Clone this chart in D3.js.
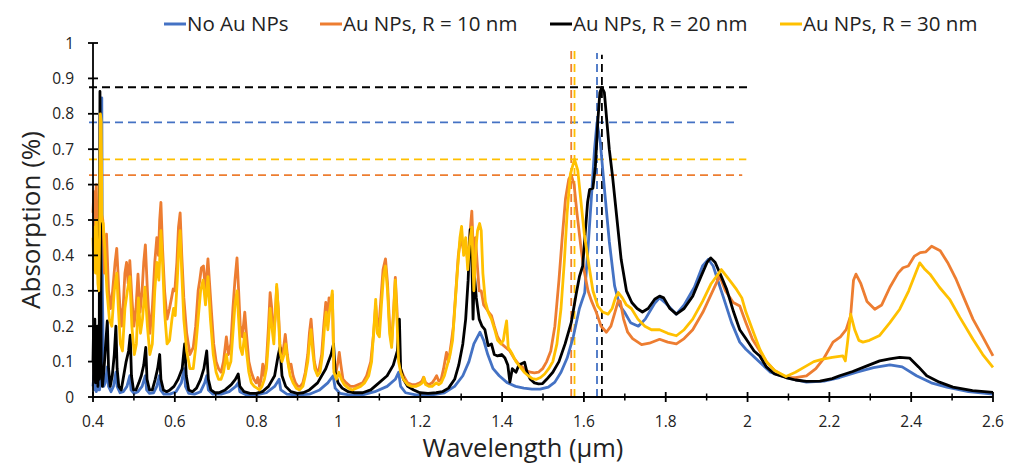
<!DOCTYPE html>
<html>
<head>
<meta charset="utf-8">
<script src="https://cdn.jsdelivr.net/npm/d3@7"></script>
<style>
  html, body { margin: 0; padding: 0; background: #fff; overflow: hidden; }
  svg { display: block; font-family: "Open Sans", sans-serif; }
</style>
</head>
<body>
<svg id="chart"></svg>
<script>
// series names + colours (legend order = draw order)
const seriesNames = ["No Au NPs", "Au NPs, R = 10 nm", "Au NPs, R = 20 nm", "Au NPs, R = 30 nm"];
const seriesColors = ["#4472C4", "#ED7D31", "#000000", "#FFC000"];

// [wavelength (um), absorption]
const noAu = [[0.400,0.03],[0.402,0.06],[0.404,0.02],[0.406,0.05],[0.408,0.015],[0.410,0.04],[0.412,0.02],[0.414,0.03],[0.416,0.02],[0.418,0.05],[0.420,0.40],[0.4215,0.845],[0.423,0.30],[0.426,0.03],[0.430,0.04],[0.435,0.085],[0.438,0.03],[0.444,0.015],[0.450,0.03],[0.456,0.07],[0.459,0.03],[0.466,0.012],[0.474,0.015],[0.483,0.03],[0.490,0.06],[0.493,0.02],[0.500,0.01],[0.510,0.015],[0.520,0.03],[0.528,0.06],[0.531,0.02],[0.538,0.01],[0.548,0.012],[0.556,0.03],[0.562,0.06],[0.565,0.02],[0.573,0.008],[0.588,0.008],[0.603,0.015],[0.616,0.04],[0.623,0.08],[0.626,0.03],[0.634,0.01],[0.648,0.008],[0.663,0.015],[0.673,0.04],[0.678,0.06],[0.682,0.02],[0.693,0.008],[0.713,0.008],[0.733,0.015],[0.749,0.03],[0.755,0.04],[0.759,0.015],[0.774,0.006],[0.799,0.006],[0.824,0.012],[0.844,0.03],[0.855,0.05],[0.859,0.02],[0.874,0.008],[0.899,0.005],[0.929,0.008],[0.954,0.02],[0.974,0.04],[0.987,0.06],[0.992,0.025],[1.004,0.01],[1.029,0.005],[1.059,0.006],[1.089,0.015],[1.119,0.03],[1.139,0.05],[1.147,0.07],[1.152,0.03],[1.164,0.012],[1.189,0.006],[1.229,0.006],[1.259,0.012],[1.284,0.03],[1.304,0.06],[1.319,0.10],[1.331,0.15],[1.346,0.183],[1.355,0.16],[1.365,0.12],[1.378,0.08],[1.393,0.06],[1.413,0.04],[1.433,0.03],[1.453,0.025],[1.473,0.022],[1.493,0.022],[1.513,0.028],[1.529,0.042],[1.544,0.07],[1.559,0.11],[1.574,0.17],[1.589,0.25],[1.602,0.295],[1.610,0.42],[1.618,0.558],[1.626,0.70],[1.632,0.776],[1.640,0.72],[1.651,0.577],[1.662,0.44],[1.675,0.314],[1.687,0.26],[1.699,0.24],[1.714,0.21],[1.733,0.20],[1.750,0.22],[1.773,0.265],[1.785,0.28],[1.800,0.265],[1.826,0.234],[1.845,0.26],[1.870,0.31],[1.890,0.37],[1.904,0.389],[1.916,0.37],[1.940,0.285],[1.961,0.21],[1.981,0.155],[1.996,0.135],[2.030,0.098],[2.056,0.07],[2.094,0.055],[2.144,0.042],[2.187,0.045],[2.225,0.055],[2.267,0.07],[2.308,0.083],[2.348,0.091],[2.378,0.085],[2.413,0.06],[2.449,0.04],[2.487,0.028],[2.540,0.015],[2.600,0.008]];

const r10 = [[0.400,0.52],[0.402,0.58],[0.404,0.45],[0.406,0.56],[0.408,0.60],[0.410,0.48],[0.412,0.38],[0.414,0.32],[0.416,0.40],[0.420,0.52],[0.424,0.50],[0.428,0.35],[0.433,0.46],[0.438,0.30],[0.443,0.25],[0.448,0.30],[0.454,0.38],[0.458,0.42],[0.462,0.33],[0.466,0.25],[0.470,0.20],[0.474,0.26],[0.478,0.35],[0.482,0.38],[0.486,0.32],[0.490,0.385],[0.495,0.28],[0.500,0.20],[0.505,0.25],[0.510,0.347],[0.515,0.24],[0.520,0.30],[0.524,0.38],[0.528,0.43],[0.533,0.30],[0.539,0.18],[0.545,0.25],[0.551,0.38],[0.556,0.45],[0.560,0.40],[0.563,0.50],[0.566,0.55],[0.570,0.42],[0.575,0.30],[0.581,0.22],[0.587,0.25],[0.592,0.28],[0.596,0.305],[0.600,0.30],[0.605,0.38],[0.609,0.48],[0.613,0.52],[0.617,0.40],[0.622,0.28],[0.629,0.18],[0.637,0.12],[0.645,0.14],[0.651,0.20],[0.657,0.30],[0.661,0.33],[0.665,0.365],[0.670,0.37],[0.675,0.30],[0.681,0.39],[0.689,0.25],[0.695,0.15],[0.701,0.10],[0.707,0.08],[0.713,0.07],[0.719,0.10],[0.726,0.17],[0.731,0.12],[0.737,0.15],[0.742,0.25],[0.747,0.33],[0.752,0.393],[0.756,0.30],[0.760,0.20],[0.765,0.17],[0.771,0.24],[0.775,0.18],[0.781,0.10],[0.787,0.07],[0.793,0.05],[0.799,0.04],[0.803,0.055],[0.807,0.03],[0.811,0.05],[0.815,0.093],[0.819,0.06],[0.824,0.10],[0.829,0.20],[0.833,0.295],[0.837,0.25],[0.841,0.18],[0.845,0.22],[0.849,0.31],[0.853,0.25],[0.857,0.15],[0.861,0.12],[0.866,0.14],[0.870,0.177],[0.875,0.12],[0.880,0.08],[0.884,0.093],[0.889,0.06],[0.895,0.04],[0.901,0.03],[0.907,0.03],[0.913,0.04],[0.919,0.07],[0.925,0.12],[0.929,0.18],[0.933,0.22],[0.937,0.16],[0.941,0.10],[0.947,0.07],[0.953,0.08],[0.959,0.12],[0.964,0.20],[0.969,0.267],[0.973,0.22],[0.977,0.28],[0.981,0.25],[0.985,0.29],[0.989,0.08],[0.994,0.07],[0.999,0.10],[1.002,0.126],[1.006,0.09],[1.011,0.05],[1.019,0.04],[1.029,0.03],[1.039,0.03],[1.049,0.035],[1.059,0.04],[1.069,0.06],[1.079,0.10],[1.086,0.18],[1.091,0.26],[1.095,0.20],[1.099,0.20],[1.104,0.28],[1.109,0.36],[1.115,0.39],[1.120,0.32],[1.125,0.20],[1.130,0.15],[1.135,0.25],[1.139,0.338],[1.143,0.25],[1.147,0.12],[1.152,0.08],[1.159,0.06],[1.169,0.04],[1.179,0.035],[1.189,0.035],[1.199,0.04],[1.204,0.045],[1.208,0.056],[1.213,0.04],[1.221,0.035],[1.229,0.04],[1.235,0.05],[1.240,0.06],[1.245,0.045],[1.251,0.05],[1.257,0.08],[1.264,0.126],[1.269,0.10],[1.276,0.155],[1.281,0.20],[1.287,0.30],[1.293,0.40],[1.299,0.45],[1.305,0.42],[1.311,0.44],[1.317,0.37],[1.322,0.47],[1.326,0.525],[1.330,0.40],[1.335,0.45],[1.339,0.38],[1.344,0.30],[1.349,0.30],[1.355,0.26],[1.361,0.25],[1.367,0.24],[1.374,0.23],[1.381,0.20],[1.389,0.17],[1.399,0.15],[1.409,0.14],[1.419,0.13],[1.429,0.11],[1.439,0.095],[1.449,0.085],[1.459,0.075],[1.469,0.07],[1.479,0.068],[1.489,0.07],[1.499,0.08],[1.509,0.10],[1.519,0.13],[1.529,0.20],[1.539,0.33],[1.547,0.45],[1.555,0.56],[1.563,0.615],[1.569,0.627],[1.576,0.60],[1.583,0.52],[1.593,0.42],[1.600,0.36],[1.610,0.30],[1.619,0.27],[1.630,0.24],[1.642,0.20],[1.655,0.183],[1.666,0.20],[1.676,0.24],[1.684,0.272],[1.689,0.27],[1.697,0.22],[1.707,0.183],[1.719,0.165],[1.741,0.148],[1.760,0.152],[1.785,0.163],[1.805,0.155],[1.826,0.150],[1.845,0.165],[1.866,0.19],[1.891,0.24],[1.911,0.29],[1.932,0.342],[1.946,0.30],[1.965,0.267],[1.981,0.257],[1.996,0.21],[2.012,0.163],[2.030,0.13],[2.046,0.10],[2.066,0.075],[2.094,0.055],[2.117,0.055],[2.144,0.06],[2.167,0.08],[2.187,0.11],[2.209,0.155],[2.227,0.17],[2.241,0.19],[2.252,0.23],[2.259,0.33],[2.265,0.347],[2.277,0.32],[2.292,0.27],[2.311,0.248],[2.328,0.26],[2.348,0.31],[2.368,0.35],[2.380,0.365],[2.393,0.37],[2.408,0.398],[2.422,0.408],[2.436,0.41],[2.450,0.426],[2.471,0.413],[2.489,0.38],[2.510,0.332],[2.529,0.28],[2.551,0.22],[2.575,0.17],[2.600,0.116]];

const r20 = [[0.400,0.10],[0.4015,0.20],[0.403,0.05],[0.4045,0.22],[0.406,0.04],[0.4075,0.18],[0.409,0.06],[0.4105,0.20],[0.412,0.03],[0.4135,0.15],[0.415,0.05],[0.416,0.50],[0.417,0.863],[0.4185,0.60],[0.420,0.10],[0.423,0.03],[0.427,0.08],[0.431,0.15],[0.435,0.215],[0.438,0.08],[0.442,0.03],[0.447,0.06],[0.452,0.12],[0.456,0.20],[0.459,0.08],[0.463,0.03],[0.469,0.02],[0.475,0.06],[0.481,0.10],[0.487,0.13],[0.491,0.175],[0.494,0.06],[0.499,0.02],[0.505,0.02],[0.512,0.04],[0.518,0.06],[0.524,0.09],[0.529,0.14],[0.532,0.05],[0.538,0.02],[0.545,0.02],[0.552,0.05],[0.558,0.08],[0.563,0.12],[0.566,0.05],[0.572,0.02],[0.580,0.015],[0.588,0.02],[0.598,0.03],[0.608,0.05],[0.618,0.08],[0.624,0.15],[0.628,0.06],[0.634,0.02],[0.643,0.015],[0.653,0.025],[0.663,0.05],[0.671,0.08],[0.678,0.13],[0.682,0.05],[0.688,0.02],[0.698,0.012],[0.708,0.012],[0.723,0.02],[0.738,0.035],[0.748,0.05],[0.755,0.065],[0.759,0.03],[0.769,0.015],[0.784,0.01],[0.799,0.01],[0.814,0.015],[0.829,0.03],[0.844,0.06],[0.853,0.12],[0.857,0.14],[0.862,0.06],[0.871,0.03],[0.884,0.015],[0.899,0.01],[0.914,0.012],[0.929,0.02],[0.949,0.04],[0.969,0.08],[0.982,0.12],[0.988,0.15],[0.992,0.07],[0.999,0.04],[1.009,0.025],[1.024,0.015],[1.039,0.012],[1.059,0.012],[1.079,0.02],[1.099,0.04],[1.119,0.06],[1.134,0.09],[1.144,0.13],[1.149,0.22],[1.152,0.08],[1.159,0.05],[1.169,0.03],[1.184,0.02],[1.199,0.012],[1.219,0.01],[1.239,0.012],[1.254,0.015],[1.269,0.025],[1.284,0.05],[1.294,0.09],[1.304,0.15],[1.311,0.22],[1.317,0.33],[1.322,0.473],[1.326,0.40],[1.329,0.22],[1.332,0.35],[1.337,0.28],[1.344,0.22],[1.351,0.20],[1.358,0.19],[1.366,0.145],[1.374,0.15],[1.381,0.12],[1.389,0.116],[1.399,0.12],[1.407,0.11],[1.414,0.09],[1.419,0.042],[1.425,0.08],[1.434,0.07],[1.441,0.09],[1.446,0.093],[1.455,0.098],[1.461,0.07],[1.469,0.05],[1.479,0.04],[1.489,0.037],[1.499,0.038],[1.509,0.05],[1.524,0.07],[1.539,0.10],[1.554,0.15],[1.569,0.21],[1.581,0.29],[1.589,0.34],[1.597,0.37],[1.603,0.46],[1.609,0.55],[1.614,0.586],[1.622,0.59],[1.628,0.65],[1.634,0.78],[1.639,0.86],[1.644,0.875],[1.650,0.86],[1.656,0.78],[1.662,0.70],[1.670,0.623],[1.681,0.50],[1.691,0.389],[1.704,0.30],[1.717,0.267],[1.730,0.25],[1.743,0.24],[1.757,0.25],[1.773,0.276],[1.785,0.285],[1.795,0.28],[1.810,0.25],[1.826,0.234],[1.845,0.25],[1.866,0.285],[1.886,0.34],[1.901,0.38],[1.910,0.393],[1.921,0.38],[1.936,0.34],[1.949,0.304],[1.966,0.24],[1.981,0.19],[1.997,0.163],[2.016,0.13],[2.030,0.116],[2.046,0.085],[2.066,0.065],[2.094,0.055],[2.117,0.048],[2.144,0.044],[2.177,0.045],[2.207,0.052],[2.225,0.06],[2.257,0.072],[2.292,0.088],[2.323,0.102],[2.348,0.108],[2.372,0.112],[2.396,0.11],[2.418,0.085],[2.438,0.06],[2.469,0.042],[2.502,0.028],[2.550,0.018],[2.600,0.013]];

const r30 = [[0.400,0.45],[0.402,0.36],[0.404,0.48],[0.406,0.35],[0.408,0.50],[0.410,0.40],[0.412,0.32],[0.414,0.30],[0.416,0.45],[0.418,0.80],[0.420,0.78],[0.422,0.50],[0.425,0.49],[0.429,0.42],[0.434,0.30],[0.440,0.22],[0.446,0.20],[0.452,0.30],[0.458,0.35],[0.462,0.25],[0.467,0.15],[0.472,0.13],[0.478,0.25],[0.484,0.30],[0.490,0.34],[0.495,0.20],[0.501,0.12],[0.506,0.15],[0.511,0.28],[0.516,0.18],[0.521,0.22],[0.527,0.31],[0.533,0.20],[0.539,0.12],[0.545,0.15],[0.551,0.30],[0.556,0.38],[0.561,0.33],[0.566,0.47],[0.570,0.38],[0.575,0.24],[0.581,0.15],[0.587,0.16],[0.593,0.22],[0.597,0.25],[0.601,0.23],[0.606,0.33],[0.610,0.43],[0.613,0.47],[0.617,0.35],[0.622,0.22],[0.629,0.13],[0.637,0.08],[0.645,0.08],[0.651,0.14],[0.657,0.22],[0.663,0.30],[0.669,0.33],[0.675,0.26],[0.681,0.34],[0.687,0.22],[0.694,0.12],[0.701,0.07],[0.707,0.05],[0.713,0.05],[0.719,0.07],[0.726,0.12],[0.731,0.08],[0.737,0.10],[0.742,0.18],[0.747,0.26],[0.752,0.30],[0.756,0.22],[0.760,0.14],[0.765,0.12],[0.771,0.18],[0.775,0.13],[0.781,0.07],[0.787,0.04],[0.794,0.03],[0.801,0.025],[0.807,0.02],[0.813,0.03],[0.819,0.05],[0.824,0.08],[0.829,0.16],[0.833,0.25],[0.837,0.20],[0.842,0.15],[0.846,0.24],[0.849,0.318],[0.853,0.24],[0.857,0.13],[0.862,0.10],[0.867,0.12],[0.871,0.15],[0.876,0.10],[0.882,0.06],[0.889,0.04],[0.897,0.025],[0.905,0.02],[0.913,0.03],[0.919,0.06],[0.925,0.10],[0.929,0.15],[0.933,0.19],[0.937,0.13],[0.942,0.08],[0.949,0.06],[0.955,0.07],[0.961,0.12],[0.966,0.20],[0.970,0.24],[0.974,0.19],[0.978,0.24],[0.982,0.27],[0.985,0.30],[0.989,0.07],[0.995,0.05],[1.001,0.07],[1.007,0.05],[1.014,0.035],[1.024,0.025],[1.034,0.02],[1.044,0.025],[1.054,0.03],[1.064,0.04],[1.074,0.06],[1.081,0.10],[1.087,0.20],[1.091,0.276],[1.095,0.18],[1.100,0.17],[1.105,0.26],[1.110,0.34],[1.115,0.37],[1.120,0.30],[1.125,0.18],[1.130,0.14],[1.135,0.24],[1.139,0.33],[1.143,0.22],[1.147,0.10],[1.152,0.07],[1.159,0.05],[1.169,0.035],[1.179,0.03],[1.189,0.03],[1.199,0.035],[1.205,0.04],[1.209,0.055],[1.213,0.035],[1.221,0.03],[1.229,0.03],[1.239,0.04],[1.245,0.035],[1.251,0.04],[1.259,0.06],[1.266,0.09],[1.273,0.12],[1.279,0.16],[1.285,0.26],[1.291,0.36],[1.297,0.45],[1.301,0.482],[1.306,0.40],[1.311,0.45],[1.316,0.36],[1.321,0.44],[1.326,0.48],[1.331,0.30],[1.336,0.42],[1.340,0.47],[1.345,0.49],[1.349,0.47],[1.353,0.35],[1.359,0.27],[1.366,0.24],[1.374,0.22],[1.382,0.19],[1.389,0.16],[1.397,0.15],[1.403,0.16],[1.407,0.19],[1.411,0.215],[1.415,0.14],[1.423,0.125],[1.434,0.10],[1.444,0.085],[1.454,0.07],[1.464,0.06],[1.474,0.052],[1.484,0.05],[1.494,0.055],[1.504,0.065],[1.514,0.08],[1.524,0.10],[1.534,0.15],[1.544,0.25],[1.552,0.38],[1.559,0.52],[1.567,0.63],[1.577,0.671],[1.585,0.64],[1.593,0.55],[1.601,0.46],[1.610,0.389],[1.622,0.30],[1.634,0.257],[1.646,0.24],[1.659,0.234],[1.669,0.25],[1.677,0.28],[1.684,0.295],[1.694,0.28],[1.704,0.26],[1.716,0.25],[1.732,0.22],[1.749,0.20],[1.765,0.19],[1.785,0.19],[1.805,0.18],[1.826,0.173],[1.845,0.19],[1.866,0.22],[1.890,0.27],[1.911,0.32],[1.936,0.36],[1.956,0.33],[1.973,0.304],[1.986,0.28],[1.996,0.24],[2.012,0.19],[2.030,0.135],[2.046,0.10],[2.066,0.075],[2.094,0.058],[2.117,0.07],[2.144,0.088],[2.162,0.10],[2.184,0.107],[2.207,0.112],[2.233,0.116],[2.239,0.102],[2.245,0.16],[2.252,0.234],[2.262,0.19],[2.272,0.16],[2.282,0.155],[2.298,0.16],[2.323,0.174],[2.348,0.21],[2.372,0.248],[2.394,0.30],[2.411,0.35],[2.421,0.379],[2.434,0.36],[2.446,0.347],[2.469,0.31],[2.494,0.276],[2.519,0.225],[2.551,0.163],[2.575,0.12],[2.600,0.084]];

// dashed marker lines, same order as the series
const peakY = [0.776, 0.627, 0.875, 0.671];     // horizontal, from x=0.4
const peakYEnd = [1.976, 1.987, 1.999, 1.997];  // where the horizontal stops
const peakX = [1.632, 1.569, 1.644, 1.577];     // vertical, from y=0
const peakXTop = [0.972, 0.987, 0.967, 0.987];  // where the vertical stops

const xTicks = [0.4, 0.6, 0.8, 1, 1.2, 1.4, 1.6, 1.8, 2, 2.2, 2.4, 2.6];
const xMinor = [0.5, 0.7, 0.9, 1.1, 1.3, 1.5, 1.7, 1.9, 2.1, 2.3, 2.5];
const yTicks = [0, 0.1, 0.2, 0.3, 0.4, 0.5, 0.6, 0.7, 0.8, 0.9, 1];

const allSeries = [noAu, r10, r20, r30];

const width = 1018, height = 466;
const margin = { top: 43, right: 25, bottom: 69, left: 93 };

const svg = d3.select("#chart").attr("width", width).attr("height", height);

// scales in absolute page pixels, so every text sits at plain x/y
const x = d3.scaleLinear().domain([0.4, 2.6]).range([margin.left, width - margin.right]);
const y = d3.scaleLinear().domain([0, 1]).range([height - margin.bottom, margin.top]);
const y0 = y(0), x0 = x(0.4);

// dashed marker lines (behind the curves)
peakY.forEach((v, i) => {
  svg.append("line")
    .attr("x1", x0 - 4).attr("x2", x(peakYEnd[i]))
    .attr("y1", y(v)).attr("y2", y(v))
    .attr("stroke", seriesColors[i]).attr("stroke-width", 1.8)
    .attr("stroke-dasharray", "8,5");
  svg.append("line")
    .attr("x1", x(peakX[i])).attr("x2", x(peakX[i]))
    .attr("y1", y0).attr("y2", y(peakXTop[i]))
    .attr("stroke", seriesColors[i]).attr("stroke-width", 1.8)
    .attr("stroke-dasharray", "8,5");
});

const line = d3.line().x(d => x(d[0])).y(d => y(d[1]));
svg.selectAll(".series").data(allSeries).join("path")
  .attr("class", "series")
  .attr("d", line)
  .attr("fill", "none")
  .attr("stroke", (d, i) => seriesColors[i])
  .attr("stroke-width", 2.8)
  .attr("stroke-linejoin", "round");

// x axis with crossing ticks
svg.append("line").attr("x1", x0).attr("x2", x(2.6)).attr("y1", y0).attr("y2", y0)
  .attr("stroke", "#000").attr("stroke-width", 1.8);
svg.selectAll(".xmaj").data(xTicks).join("line").attr("class", "xmaj")
  .attr("x1", d => x(d)).attr("x2", d => x(d)).attr("y1", y0 - 5).attr("y2", y0 + 5)
  .attr("stroke", "#000").attr("stroke-width", 1.8);
svg.selectAll(".xmin").data(xMinor).join("line").attr("class", "xmin")
  .attr("x1", d => x(d)).attr("x2", d => x(d)).attr("y1", y0 - 3.5).attr("y2", y0 + 3.5)
  .attr("stroke", "#000").attr("stroke-width", 1.5);
svg.selectAll(".xlab").data(xTicks).join("text").attr("class", "xlab")
  .attr("x", d => x(d)).attr("y", y0 + 30)
  .attr("text-anchor", "middle").attr("font-size", 15.5).attr("fill", "#222")
  .text(d => d);

// y axis
svg.append("line").attr("x1", x0).attr("x2", x0).attr("y1", y(1)).attr("y2", y0)
  .attr("stroke", "#000").attr("stroke-width", 1.8);
svg.selectAll(".ytk").data(yTicks).join("line").attr("class", "ytk")
  .attr("x1", x0 - 5).attr("x2", x0 + 5).attr("y1", d => y(d)).attr("y2", d => y(d))
  .attr("stroke", "#000").attr("stroke-width", 1.8);
svg.selectAll(".ylab").data(yTicks).join("text").attr("class", "ylab")
  .attr("x", x0 - 19).attr("y", d => y(d) + 5.5)
  .attr("text-anchor", "end").attr("font-size", 15.5).attr("fill", "#222")
  .text(d => d);

// axis titles
svg.append("text")
  .attr("x", 523).attr("y", 457)
  .attr("text-anchor", "middle").attr("font-size", 25.5).attr("fill", "#222")
  .text("Wavelength (μm)");
const yMid = (y(0) + y(1)) / 2;
svg.append("text")
  .attr("x", 40).attr("y", yMid)
  .attr("transform", `rotate(-90,40,${yMid})`)
  .attr("text-anchor", "middle").attr("font-size", 26).attr("fill", "#222")
  .text("Absorption (%)");

// legend
const legendX = [164, 320, 550, 780];
const legendY = 24;
svg.selectAll(".legline").data(seriesNames).join("line").attr("class", "legline")
  .attr("x1", (d, i) => legendX[i]).attr("x2", (d, i) => legendX[i] + 22)
  .attr("y1", legendY).attr("y2", legendY)
  .attr("stroke", (d, i) => seriesColors[i]).attr("stroke-width", 3);
svg.selectAll(".legtext").data(seriesNames).join("text").attr("class", "legtext")
  .attr("x", (d, i) => legendX[i] + 23).attr("y", legendY + 7)
  .attr("font-size", 20.5).attr("fill", "#222")
  .text(d => d);
</script>
</body>
</html>
